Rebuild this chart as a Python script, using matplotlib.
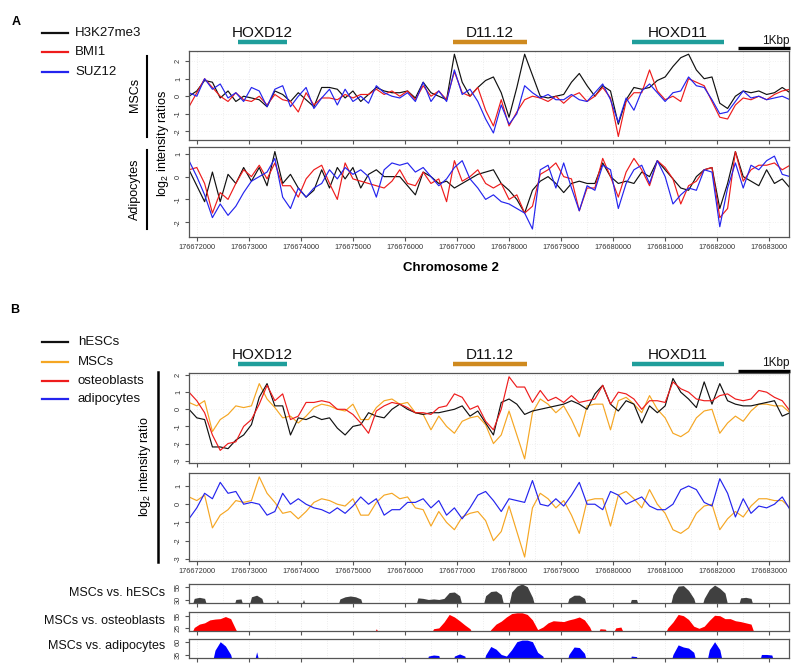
import numpy as np
import matplotlib
matplotlib.use("Agg")
import matplotlib.pyplot as plt
import matplotlib.transforms as mtransforms
from matplotlib.lines import Line2D
from matplotlib.ticker import MultipleLocator, FuncFormatter

plt.rcParams['font.family'] = ['Liberation Sans', 'DejaVu Sans']
plt.rcParams['mathtext.fontset'] = 'custom'
plt.rcParams['mathtext.rm'] = 'Liberation Sans'
plt.rcParams['mathtext.default'] = 'regular'

# ---------------- data ----------------
PROBE_START = 176671850      # first probe position (bp)
PROBE_STEP = 150             # probe spacing of the ratio tracks (bp)
SCORE_STEP = 100             # spacing of the peak-score tracks (bp)
XLIM = (176671850, 176683380)

# Panel A, MSCs
a_msc_h3k27me3 = [0.0, 0.3, 0.9, 0.8, -0.1, 0.3, -0.3, 0.0, -0.1, -0.2,
                  -0.6, 0.3, 0.1, -0.3, 0.2, -0.2, -0.6, 0.5, 0.5, 0.4,
                  -0.1, 0.3, -0.3, 0.1, 0.5, 0.3, 0.2, 0.2, 0.3, -0.1,
                  0.8, 0.2, 0.0, -0.2, 2.4, 0.8, 0.0, 0.5, 0.9, 1.1,
                  0.2, -1.2, 0.5, 2.4, 1.2, 0.0, -0.1, 0.0, 0.1, 0.8,
                  1.3, 0.6, 0.0, 0.6, 0.3, -1.6, -0.2, 0.5, 0.4, 0.5,
                  0.9, 1.1, 1.7, 2.2, 2.4, 1.5, 1.0, 1.1, -0.4, -0.7,
                  0.0, 0.3, 0.2, 0.3, 0.1, 0.2, 0.5, 0.2]
a_msc_bmi1 = [-0.6, 0.2, 1.0, 0.5, 0.0, -0.3, 0.2, -0.2, -0.3, 0.0,
              -0.5, 0.1, -0.2, -0.3, -0.9, 0.2, -0.5, -0.1, -0.1, -0.2,
              0.1, -0.1, 0.1, 0.1, 0.4, 0.1, 0.3, 0.0, 0.3, -0.2,
              0.6, 0.0, 0.3, -0.2, 1.4, 0.2, 0.0, 0.5, -0.8, -1.7,
              -0.2, -1.7, -0.9, -0.2, 0.0, -0.1, -0.3, 0.0, -0.4, 0.0,
              0.2, -0.3, 0.0, 0.5, -0.1, -2.3, -0.3, 0.2, 0.2, 1.5,
              0.3, -0.2, 0.0, -0.3, 1.0, 0.8, 0.6, -0.3, -1.2, -1.3,
              -0.5, -0.1, -0.2, 0.0, -0.2, 0.1, 0.3, 0.4]
a_msc_suz12 = [0.2, 0.0, 1.0, 0.4, 0.7, -0.1, 0.2, -0.3, 0.5, 0.3,
               -0.6, 0.4, 0.6, -0.6, 0.0, 0.5, -0.7, -0.1, 0.4, -0.5,
               0.4, -0.3, 0.0, -0.4, 0.6, 0.2, 0.0, -0.1, 0.2, -0.3,
               0.8, -0.3, 0.3, -0.3, 1.5, 0.1, 0.4, -0.3, -1.3, -2.1,
               -0.5, -1.6, -1.0, 0.6, 0.2, -0.1, 0.1, -0.2, -0.2, 0.1,
               -0.2, -0.3, 0.2, 0.7, -0.2, -1.5, -0.1, -0.8, 0.3, 0.7,
               0.2, -0.3, 0.2, 0.3, 1.1, 0.6, 0.5, -0.2, -1.0, -0.9,
               -0.3, 0.3, -0.1, 0.0, -0.2, -0.1, 0.0, -0.2]

# Panel A, Adipocytes
a_adi_h3k27me3 = [0.3, -0.4, -1.1, 0.2, -1.1, 0.1, -0.3, 0.4, -0.2, 0.4,
                  -0.4, 1.1, -0.3, 0.1, -0.5, -0.9, -0.6, 0.3, -0.5, 0.4,
                  -0.1, 0.4, -0.5, 0.1, 0.3, 0.0, 0.0, 0.0, -0.4, -0.8,
                  0.2, 0.0, -0.3, -0.2, -0.5, -0.3, -0.1, 0.1, 0.2, 0.3,
                  -0.3, -0.6, -1.0, -1.6, -0.6, -0.2, 0.0, -0.3, -0.7, -0.3,
                  -0.2, -0.3, -0.3, 0.6, 0.0, -0.3, -0.2, -0.3, 0.2, 0.0,
                  0.7, 0.3, -0.1, -0.5, -0.6, 0.0, 0.3, 0.4, -1.4, -0.3,
                  1.1, 0.0, -0.2, -0.4, 0.3, -0.3, -0.1, -0.5]
a_adi_bmi1 = [0.3, 0.4, -0.3, -1.6, -0.7, -1.0, -0.3, 0.3, 0.0, 0.5,
              -0.1, 0.6, -0.4, -0.4, -0.9, -0.1, 0.3, 0.5, -0.3, -1.0,
              0.6, -0.1, -0.2, -0.3, -0.4, -0.5, -0.2, 0.3, -0.3, -0.4,
              0.2, -0.3, -0.1, -1.1, 0.7, -0.2, 0.0, 0.3, -0.3, -0.5,
              -0.3, -1.0, -0.8, -1.6, -1.3, 0.1, 0.3, 0.6, 0.0, -0.1,
              -1.5, -0.5, -0.5, 0.8, 0.0, -0.9, 0.2, 0.8, 0.3, -0.4,
              0.7, 0.4, -0.1, -1.2, -0.4, -0.2, 0.3, 0.4, -1.8, -1.4,
              1.1, -0.2, 0.3, 0.5, 0.5, 0.6, 0.3, 0.5]
a_adi_suz12 = [0.7, 0.0, -0.8, -1.8, -1.2, -1.7, -1.3, -0.7, -0.2, 0.0,
               0.2, 0.8, -0.9, -1.4, -0.5, -0.9, -0.5, -0.3, 0.3, -0.1,
               0.4, 0.1, 0.3, 0.0, -0.9, 0.3, 0.6, 0.5, 0.6, 0.2,
               0.4, 0.0, -0.4, -0.1, 0.4, 0.7, -0.1, -0.5, -1.0, -0.8,
               -1.1, -1.2, -1.4, -1.6, -2.3, 0.3, 0.5, -0.5, 0.6, -0.5,
               -1.5, -0.4, -0.6, 0.5, 0.3, -1.4, -0.3, 0.3, 0.5, -0.3,
               0.7, 0.0, -1.2, -0.8, -0.5, -0.6, 0.3, 0.2, -2.2, -0.5,
               0.6, -0.5, 0.5, 0.3, 0.7, 0.9, 0.1, 0.0]

# Panel B, H3K27me3 ratios per cell type
b_hescs = [0.0, -0.5, -0.6, -2.2, -2.2, -2.3, -1.8, -1.5, -0.9, 0.7,
           1.5, 0.2, 0.2, -1.5, -0.5, -0.6, -0.4, -0.6, -0.5, -1.1,
           -1.5, -1.0, -0.9, -0.2, -0.4, -0.5, 0.0, 0.3, 0.0, -0.2,
           -0.3, -0.2, -0.2, -0.1, 0.0, 0.2, -0.4, -0.1, -0.8, -1.5,
           0.4, 0.6, 0.3, -0.3, -0.1, 0.0, 0.1, 0.2, 0.3, 0.5,
           0.3, 0.0, 0.9, 1.4, 0.3, -0.1, 0.5, 0.3, -0.8, 0.2,
           -0.2, 0.2, 1.8, 1.0, 0.6, 0.1, 1.6, 0.3, 1.5, 0.5,
           0.3, 0.2, 0.2, 0.3, 0.4, 0.5, -0.4, -0.2]
b_mscs = [0.4, 0.2, 0.5, -1.3, -0.6, -0.3, 0.2, 0.1, 0.2, 1.5,
          0.6, 0.1, -0.5, -0.4, -0.8, -0.4, 0.1, 0.3, 0.2, 0.0,
          -0.1, 0.3, -0.6, -0.6, 0.1, 0.5, 0.6, 0.3, 0.4, -0.2,
          -0.3, -1.2, -0.4, -1.0, -1.4, -0.7, -0.5, -0.4, -0.9, -2.0,
          -1.5, -0.1, -1.5, -2.9, -0.2, 0.6, 0.3, -0.2, 0.2, -0.6,
          -1.6, 0.2, 0.3, 0.3, -1.2, 0.5, 0.7, 0.3, -0.2, 0.8,
          0.0, -0.5, -1.4, -1.6, -1.3, -0.5, -0.1, 0.0, -1.4, -0.8,
          -0.4, -0.7, -0.1, 0.3, 0.3, 0.2, 0.2, -0.2]
b_osteoblasts = [1.0, 0.5, -0.2, -1.5, -2.4, -2.0, -1.9, -1.0, -0.6, 0.3,
                 1.4, 0.5, 0.9, -0.6, -0.4, 0.4, 0.4, 0.5, 0.4, 0.0,
                 0.0, -0.3, -0.8, -1.4, -0.1, 0.2, 0.4, 0.3, 0.1, -0.2,
                 -0.2, -0.3, 0.1, 0.2, 0.9, 0.7, 0.0, 0.2, -0.7, -1.2,
                 0.0, 1.9, 1.3, 1.3, 0.4, 1.1, 0.5, 0.7, 0.4, 0.8,
                 0.4, 0.5, 0.6, 1.4, 0.3, 1.0, 0.9, 0.6, 0.0, 0.5,
                 0.5, 0.4, 1.6, 1.2, 1.0, 0.6, 0.5, 0.5, 0.8, 0.9,
                 0.6, 0.5, 0.6, 1.1, 1.0, 0.7, 0.5, -0.1]
b_adipocytes = [-0.8, -0.2, 0.6, 0.3, 1.2, 0.6, 0.7, 0.0, 0.1, 0.0,
                -0.6, -0.4, 0.6, 0.0, 0.3, 0.0, -0.2, -0.3, -0.5, -0.2,
                -0.5, -0.1, 0.4, 0.0, 0.3, -0.6, -0.3, -0.3, 0.1, 0.1,
                0.3, -0.2, 0.2, -0.6, -0.2, -0.8, -0.2, 0.5, 0.7, 0.2,
                -0.4, 0.3, 0.2, 0.1, 1.3, 0.0, -0.1, 0.3, -0.1, 0.5,
                1.2, 0.0, 0.0, -0.3, 0.7, 0.5, 0.0, 0.2, 0.4, -0.1,
                -0.3, -0.3, 0.0, 0.8, 1.0, 0.8, 0.1, -0.1, 1.4, 0.6,
                -0.7, 0.3, -0.5, -0.1, -0.2, 0.0, 0.4, -0.3]

# Peak scores (0 = no enrichment)
score_hescs = [0, 33, 35, 33, 0, 0, 0, 0, 0, 31,
               32, 0, 36, 39, 33, 0, 0, 31, 0, 0,
               0, 0, 31, 0, 0, 0, 0, 0, 0, 32,
               36, 37.5, 36, 32, 0, 0, 0, 0, 0, 0,
               0, 0, 0, 0, 34, 33, 31, 32, 31, 33,
               44, 45, 38, 0, 0, 0, 0, 38, 46, 47,
               40, 0, 45, 56, 60, 55, 35, 0, 0, 0,
               0, 0, 0, 33, 39, 39, 33, 0, 0, 0,
               0, 0, 0, 0, 0, 31, 31, 0, 0, 0,
               0, 0, 0, 40, 56, 57, 48, 33, 0, 33,
               50, 58, 52, 43, 0, 0, 34, 35, 33, 0,
               0, 0, 0, 0, 0, 0]
score_osteoblasts = [0, 27, 35, 38, 45, 47, 48, 53, 48, 22,
                     0, 0, 0, 0, 0, 0, 0, 0, 0, 0,
                     0, 0, 0, 0, 0, 0, 0, 0, 0, 0,
                     0, 0, 0, 0, 0, 0, 24, 0, 0, 0,
                     0, 0, 0, 0, 0, 0, 0, 24, 26, 40,
                     58, 52, 43, 33, 24, 0, 0, 0, 22, 35,
                     42, 52, 60, 62, 62, 58, 45, 22, 28, 38,
                     43, 42, 41, 45, 48, 52, 45, 28, 0, 24,
                     23, 0, 26, 28, 0, 0, 0, 0, 0, 0,
                     0, 0, 26, 40, 58, 55, 46, 30, 25, 30,
                     44, 56, 55, 48, 48, 43, 41, 38, 35, 0,
                     0, 0, 0, 0, 0, 0]
score_adipocytes = [0, 0, 0, 0, 0, 44, 60, 52, 36, 0,
                    0, 0, 0, 41, 0, 31, 0, 0, 0, 0,
                    0, 0, 0, 0, 0, 0, 0, 0, 0, 0,
                    0, 0, 0, 0, 0, 0, 0, 0, 0, 0,
                    0, 32, 0, 0, 0, 0, 33, 35, 34, 0,
                    0, 33, 37, 33, 0, 0, 0, 35, 51, 46,
                    36, 33, 45, 60, 63, 63, 60, 40, 33, 0,
                    0, 0, 0, 36, 50, 49, 38, 0, 0, 0,
                    0, 0, 0, 0, 0, 33, 32, 0, 0, 0,
                    0, 0, 0, 36, 54, 50, 48, 40, 0, 0,
                    45, 60, 45, 0, 0, 0, 0, 0, 0, 0,
                    36, 36, 35, 0, 0, 0]

genes = ["HOXD12", "D11.12", "HOXD11"]
gene_starts = [176672790, 176676920, 176680360]
gene_ends = [176673735, 176678345, 176682130]
gene_colors = ["#1f9e9b", "#cf8a1f", "#1f9e9b"]
scale_start, scale_len, scale_label = 176682400, 1000, "1Kbp"

legend_a = ["H3K27me3", "BMI1", "SUZ12"]
colors_a = ["#111111", "#ee1c1c", "#2424ee"]
legend_b = ["hESCs", "MSCs", "osteoblasts", "adipocytes"]
colors_b = ["#111111", "#f5a623", "#ee1c1c", "#2424ee"]
score_labels = ["MSCs vs. hESCs", "MSCs vs. osteoblasts", "MSCs vs. adipocytes"]
score_colors = ["#404040", "#ff0000", "#0000ff"]

pos = PROBE_START + PROBE_STEP * np.arange(len(b_mscs))
spos = PROBE_START + SCORE_STEP * np.arange(len(score_hescs))

# ---------------- figure ----------------
W, H = 800, 668
fig = plt.figure(figsize=(W / 100, H / 100), dpi=100)
LW = 0.85


def px_axes(x0, y0, x1, y1):
    return fig.add_axes([x0 / W, 1 - y1 / H, (x1 - x0) / W, (y1 - y0) / H])


def style(ax, ylim, yticks, xlabels=False, ygrid=True):
    ax.set_xlim(XLIM)
    ax.set_ylim(ylim)
    ax.set_yticks(yticks)
    ax.set_yticklabels([str(t) for t in yticks], rotation=90, va='center')
    ax.xaxis.set_major_locator(MultipleLocator(1000))
    ax.xaxis.set_minor_locator(MultipleLocator(500))
    ax.tick_params(axis='both', which='major', direction='out', length=3,
                   width=0.8, color='#555555', labelsize=5.3,
                   labelcolor='#333333', pad=2)
    ax.tick_params(axis='x', which='minor', length=0)
    ax.grid(True, which='both', axis='x', color='#dedede', ls=(0, (1, 2.5)), lw=0.5)
    if ygrid:
        ax.grid(True, which='major', axis='y', color='#e6e6e6', ls=(0, (1, 2.5)), lw=0.5)
    ax.set_axisbelow(True)
    for s in ax.spines.values():
        s.set_color('#555555')
        s.set_linewidth(0.9)
    if xlabels:
        ax.xaxis.set_major_formatter(FuncFormatter(lambda v, p: "%d" % round(v)))
    else:
        ax.tick_params(axis='x', labelbottom=False)


def annotate_genes(ax, y_text, y_bar, y_sc_text, y_sc_bar):
    tr = mtransforms.blended_transform_factory(ax.transData, ax.transAxes)
    for g, s, e, c in zip(genes, gene_starts, gene_ends, gene_colors):
        ax.add_line(Line2D([s, e], [y_bar, y_bar], transform=tr, color=c, lw=3.2,
                           solid_capstyle='butt', clip_on=False))
        ax.text((s + e) / 2, y_text, g, transform=tr, ha='center', va='center',
                fontsize=11, color='#111111', clip_on=False)
    ax.add_line(Line2D([scale_start, scale_start + scale_len], [y_sc_bar, y_sc_bar],
                       transform=tr, color='black', lw=2.4, solid_capstyle='butt',
                       clip_on=False))
    ax.text(scale_start + scale_len, y_sc_text, scale_label, transform=tr, ha='right',
            va='center', fontsize=8.5, color='#111111', clip_on=False)


def track(ax, vals, c):
    ax.plot(pos, vals, color=c, lw=LW, solid_joinstyle='round')


# ---- Panel A
axA1 = px_axes(189, 50.7, 789, 140)
axA2 = px_axes(189, 147, 789, 237)
for vals, c in zip([a_msc_h3k27me3, a_msc_bmi1, a_msc_suz12], colors_a):
    track(axA1, vals, c)
for vals, c in zip([a_adi_h3k27me3, a_adi_bmi1, a_adi_suz12], colors_a):
    track(axA2, vals, c)
style(axA1, (-2.5, 2.6), [-2, -1, 0, 1, 2])
style(axA2, (-2.65, 1.3), [-2, -1, 0, 1], xlabels=True)
annotate_genes(axA1, 1.2016, 1.1008, 1.112, 1.0336)

# ---- Panel B
axB1 = px_axes(189, 373, 789, 462.7)
axB2 = px_axes(189, 472.7, 789, 560.7)
track(axB1, b_mscs, colors_b[1])
track(axB1, b_hescs, colors_b[0])
track(axB1, b_osteoblasts, colors_b[2])
track(axB2, b_mscs, colors_b[1])
track(axB2, b_adipocytes, colors_b[3])
style(axB1, (-3.12, 2.12), [-3, -2, -1, 0, 1, 2])
style(axB2, (-3.1, 1.73), [-3, -2, -1, 0, 1], xlabels=True)
annotate_genes(axB1, 1.2007, 1.1003, 1.111, 1.0256)

score_boxes = [(584, 603.3), (611.7, 630.7), (639.3, 658.3)]
score_ylims = [(23.8, 60), (19.3, 64.5), (28.8, 64.5)]
score_ticks = [[30, 55], [25, 55], [35, 60]]
score_label_y = [593.3, 620.5, 646.5]
for (y0, y1), yl, yt, vals, c, lab, ly in zip(score_boxes, score_ylims, score_ticks,
                                            [score_hescs, score_osteoblasts, score_adipocytes],
                                            score_colors, score_labels, score_label_y):
    ax = px_axes(189, y0, 789, y1)
    ax.fill_between(spos, 0, vals, color=c, lw=0)
    style(ax, yl, yt, ygrid=False)
    fig.text(165 / W, 1 - ly / H, lab, ha='right', va='center', fontsize=9, color='#111111')

# ---- labels
fig.text(12 / W, 1 - 22 / H, "A", fontsize=9, fontweight='bold', ha='left', va='center')
fig.text(10 / W, 1 - 310 / H, "B", fontsize=9, fontweight='bold', ha='left', va='center')

for i, (lab, c) in enumerate(zip(legend_a, colors_a)):
    y = 1 - [33.3, 52.3, 72.0][i] / H
    fig.add_artist(Line2D([42 / W, 68 / W], [y, y], color=c, lw=1.6))
    fig.text(75 / W, y, lab, fontsize=9.5, va='center', ha='left', color='#111111')
for i, (lab, c) in enumerate(zip(legend_b, colors_b)):
    y = 1 - [342.3, 361.7, 380.7, 399.3][i] / H
    fig.add_artist(Line2D([42 / W, 68 / W], [y, y], color=c, lw=1.6))
    fig.text(78 / W, y, lab, fontsize=9.5, va='center', ha='left', color='#111111')

# side labels
fig.text(135 / W, 1 - 95 / H, "MSCs", rotation=90, fontsize=9, ha='center', va='center')
fig.add_artist(Line2D([147 / W, 147 / W], [1 - 56 / H, 1 - 137 / H], color='black', lw=1.5))
fig.text(135 / W, 1 - 189 / H, "Adipocytes", rotation=90, fontsize=9, ha='center', va='center')
fig.add_artist(Line2D([147 / W, 147 / W], [1 - 150 / H, 1 - 229 / H], color='black', lw=1.5))
fig.text(163 / W, 1 - 143 / H, r"log$_2$ intensity ratios", rotation=90, fontsize=9,
         ha='center', va='center')
fig.text(145 / W, 1 - 467 / H, r"log$_2$ intensity ratio", rotation=90, fontsize=9,
         ha='center', va='center')
fig.add_artist(Line2D([158 / W, 158 / W], [1 - 372 / H, 1 - 562 / H], color='black', lw=1.8))

fig.text(451 / W, 1 - 268 / H, "Chromosome 2", fontsize=9.5, fontweight='bold',
         ha='center', va='center')

fig.savefig("out.png", dpi=100)
